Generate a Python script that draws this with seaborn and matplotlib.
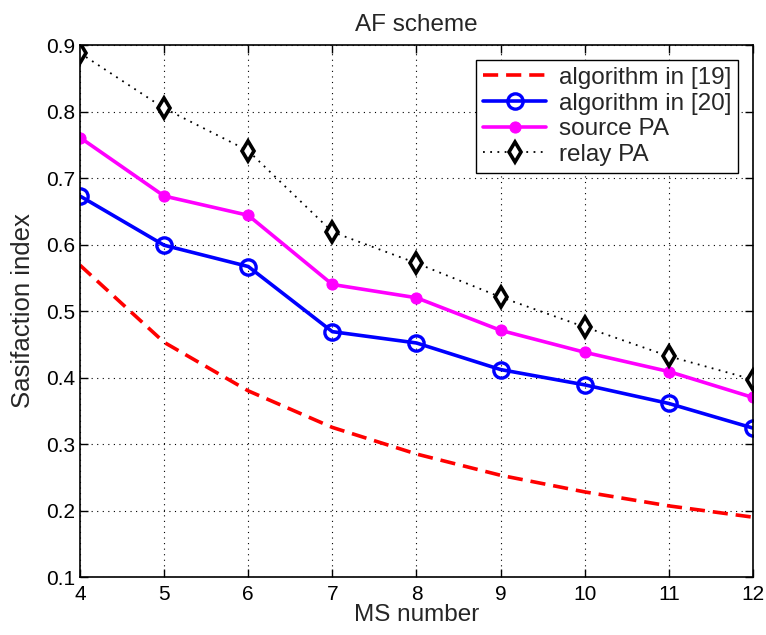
import matplotlib
matplotlib.use("Agg")
import matplotlib.pyplot as plt
import seaborn as sns

# data
ms_number = [4, 5, 6, 7, 8, 9, 10, 11, 12]
alg19 = [0.569, 0.453, 0.380, 0.325, 0.285, 0.253, 0.228, 0.207, 0.190]
alg20 = [0.673, 0.599, 0.567, 0.469, 0.452, 0.412, 0.389, 0.361, 0.324]
source_pa = [0.761, 0.673, 0.644, 0.540, 0.520, 0.471, 0.438, 0.409, 0.370]
relay_pa = [0.888, 0.805, 0.741, 0.619, 0.572, 0.521, 0.476, 0.432, 0.397]

sns.set_style("ticks")
plt.rcParams['font.family'] = ['Liberation Sans', 'DejaVu Sans']

fig = plt.figure(figsize=(7.66, 6.35), dpi=100)
ax = fig.add_axes([0.1044, 0.0913, 0.8786, 0.8377])

sns.lineplot(x=ms_number, y=alg19, ax=ax, color='red', linewidth=2.6,
             linestyle=(0, (4.2, 2.2)), label='algorithm in [19]')
sns.lineplot(x=ms_number, y=alg20, ax=ax, color='blue', linewidth=2.6,
             marker='o', markersize=11, markerfacecolor='none',
             markeredgecolor='blue', markeredgewidth=2.4, label='algorithm in [20]')
sns.lineplot(x=ms_number, y=source_pa, ax=ax, color='magenta', linewidth=2.6,
             marker='o', markersize=8, markeredgecolor='magenta',
             label='source PA')
sns.lineplot(x=ms_number, y=relay_pa, ax=ax, color='black', linewidth=1.3,
             linestyle=(0, (1, 3)), marker='d', markersize=10.5,
             markerfacecolor='white', markeredgecolor='black',
             markeredgewidth=2.6, label='relay PA')

ax.set_xlim(4, 12)
ax.set_ylim(0.1, 0.9)
ax.set_xticks(ms_number)
ax.set_yticks([0.1, 0.2, 0.3, 0.4, 0.5, 0.6, 0.7, 0.8, 0.9])
ax.set_yticklabels(['0.1', '0.2', '0.3', '0.4', '0.5', '0.6', '0.7', '0.8', '0.9'])
ax.tick_params(direction='in', length=6, width=1, labelsize=15,
               top=True, right=True, colors='black')
ax.tick_params(axis='x', pad=6)
ax.grid(True, color='black', linestyle=(0, (1, 4)), linewidth=0.8)
for s in ax.spines.values():
    s.set_visible(True)
    s.set_color('black')
    s.set_linewidth(1.2)

ax.set_title('AF scheme', fontsize=17.5, pad=10)
ax.set_xlabel('MS number', fontsize=17.5, labelpad=0)
ax.set_ylabel('Sasifaction index', fontsize=18.5, labelpad=8)

leg = ax.legend(loc='upper right', fontsize=17.5, handlelength=2.6,
                fancybox=False, framealpha=1, edgecolor='black',
                borderaxespad=0.6, labelspacing=0.15, borderpad=0.3,
                handletextpad=0.5)
leg.get_frame().set_linewidth(1.0)

fig.savefig('out.png', dpi=100)
